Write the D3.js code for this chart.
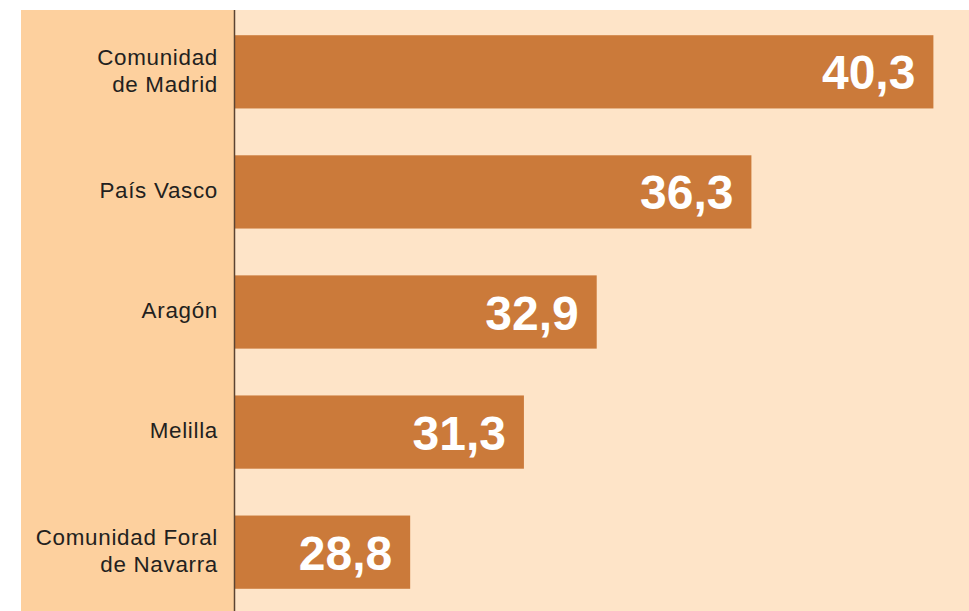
<!DOCTYPE html>
<html>
<head>
<meta charset="utf-8">
<script src="https://cdn.jsdelivr.net/npm/d3@7"></script>
<style>
  html, body { margin: 0; padding: 0; background: #ffffff; }
  svg { display: block; }
</style>
</head>
<body>
<svg id="chart" width="969" height="611"></svg>
<script>
// Regions and their values (shown with a decimal comma)
const regions = [
  ["Comunidad", "de Madrid"],
  ["País Vasco"],
  ["Aragón"],
  ["Melilla"],
  ["Comunidad Foral", "de Navarra"]
];
const values = [40.3, 36.3, 32.9, 31.3, 28.8];
const keys = regions.map(r => r.join(" "));

const W = 969, H = 611;
const panelLeft = 21, panelTop = 10, axisX = 235;

const svg = d3.select("#chart");

// Label panel and plot panel backgrounds
svg.append("rect")
  .attr("x", panelLeft).attr("y", panelTop)
  .attr("width", axisX - panelLeft).attr("height", H - panelTop)
  .attr("fill", "#fdd09e");
svg.append("rect")
  .attr("x", axisX).attr("y", panelTop)
  .attr("width", W - axisX).attr("height", H - panelTop)
  .attr("fill", "#fee4c8");

// Value axis does not start at zero
const xMin = 24.95;
const x = d3.scaleLinear().domain([xMin, 40.3]).range([axisX, 933.4]);
const y = d3.scaleBand().domain(keys).range([panelTop, 614])
  .paddingInner(0.39).paddingOuter(0.21);

const fmt = v => d3.format(".1f")(v).replace(".", ",");

const g = svg.append("g");
const rows = g.selectAll("g.row")
  .data(values.map((v, i) => ({ v, key: keys[i], lines: regions[i] })))
  .join("g").attr("class", "row");

rows.append("rect")
  .attr("x", x(xMin))
  .attr("y", d => y(d.key))
  .attr("width", d => x(d.v) - x(xMin))
  .attr("height", y.bandwidth())
  .attr("fill", "#cb7a3a");

rows.append("text")
  .attr("x", d => x(d.v) - 18)
  .attr("y", d => y(d.key) + y.bandwidth() / 2 + 17.5)
  .attr("text-anchor", "end")
  .attr("fill", "#ffffff")
  .attr("font-family", "Liberation Sans, Arial, sans-serif")
  .attr("font-weight", "bold")
  .attr("font-size", 48)
  .text(d => fmt(d.v));

// Category labels, right-aligned against the axis
const lineH = 27.4;
rows.append("text")
  .attr("text-anchor", "end")
  .attr("fill", "#231f20")
  .attr("font-family", "Liberation Sans, Arial, sans-serif")
  .attr("font-size", 22.4)
  .attr("letter-spacing", "0.7px")
  .each(function(d) {
    const t = d3.select(this);
    const cy = y(d.key) + y.bandwidth() / 2;
    const n = d.lines.length;
    d.lines.forEach((ln, i) => {
      t.append("tspan")
        .attr("x", 218)
        .attr("y", cy + 6.4 + (i - (n - 1) / 2) * lineH)
        .text(ln);
    });
  });

// Vertical axis line
svg.append("line")
  .attr("x1", axisX - 0.5).attr("x2", axisX - 0.5)
  .attr("y1", panelTop).attr("y2", H)
  .attr("stroke", "#5b4332").attr("stroke-width", 1.5);
</script>
</body>
</html>
